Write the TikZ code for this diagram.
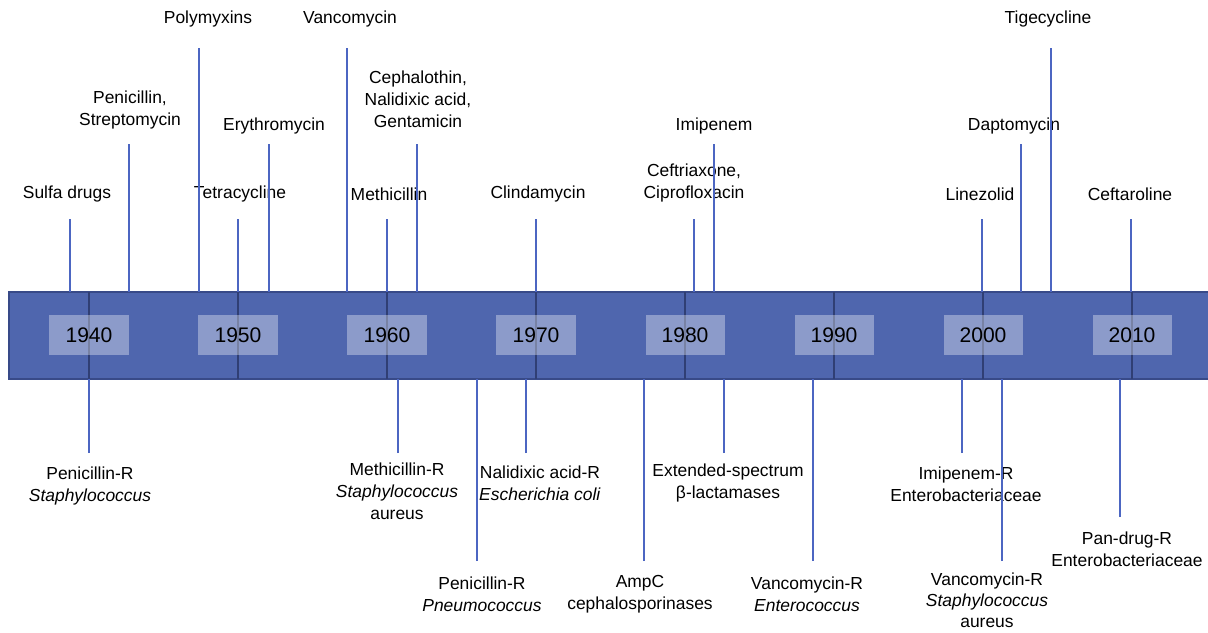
\documentclass[tikz,border=0pt]{standalone}
\usepackage{fontspec}
\setmainfont{Liberation Sans}
\definecolor{barblue}{RGB}{79,102,174}
\definecolor{baredge}{RGB}{56,74,136}
\definecolor{spikeblue}{RGB}{76,102,194}

\begin{document}
\begin{tikzpicture}
  [x=0.025cm,y=-0.025cm,
   every node/.style={font=\fontsize{12.4}{15.6}\selectfont,align=center,inner sep=0pt},
   yearbox/.style={fill=white,fill opacity=.35,text opacity=1,minimum width=1.975cm,minimum height=1cm,font=\fontsize{15}{18}\selectfont},
   spike/.style={draw=spikeblue,line width=2.1pt},
   divider/.style={draw=baredge!85!black,line width=1.4pt}]
  \useasboundingbox (0,0) rectangle (1208,632);

  % the time bar
  \draw[fill=barblue,draw=baredge,line width=1.5pt] (9,292) rectangle (1214,379);
  \coordinate (bartop) at (0,292);
  \coordinate (barbot) at (0,379);
  \foreach \yr [count=\i from 0] in {1940,1950,...,2010}
    \coordinate (d\yr) at ({89+149*\i},335);
  \foreach \yr in {1940,1950,...,2010}
    \draw[divider] (d\yr |- bartop) -- (d\yr |- barbot);
  \foreach \yr in {1940,1950,...,2010}
    \node[yearbox] (y\yr) at (d\yr) {\yr};

  % antibiotics (above)
  \node (sulfa)   at (67,194)   {Sulfa drugs};
  \node (penstr)  at (130,110)  {Penicillin,\\Streptomycin};
  \node (polymy)  at (208,19)   {Polymyxins};
  \node (tetra)   at (240,194)  {Tetracycline};
  \node (erythro) at (274,126)  {Erythromycin};
  \node (vanco)   at (350,19)   {Vancomycin};
  \node (methi)   at (389,194)  {Methicillin};
  \node (cepha)   at (418,99)   {Cephalothin,\\Nalidixic acid,\\Gentamicin};
  \node (clinda)  at (538,194)  {Clindamycin};
  \node (ceftri)  at (694,183)  {Ceftriaxone,\\Ciprofloxacin};
  \node (imipen)  at (714,126)  {Imipenem};
  \node (linez)   at (980,194)  {Linezolid};
  \node (dapto)   at (1014,126) {Daptomycin};
  \node (tige)    at (1048,19)  {Tigecycline};
  \node (cefta)   at (1130,194) {Ceftaroline};

  % resistance (below)
  \node (rpenst)  at (90,486)   {Penicillin-R\\\textit{Staphylococcus}};
  \node (rmethi)  at (397,491)  {Methicillin-R\\\textit{Staphylococcus}\\aureus};
  \node (rpenpn)  at (482,594)  {Penicillin-R\\\textit{Pneumococcus}};
  \node (rnalid)  at (540,483)  {Nalidixic acid-R\\\textit{Escherichia coli}};
  \node (rampc)   at (640,594)  {AmpC\\cephalosporinases};
  \node (resbl)   at (728,483)  {Extended-spectrum\\β-lactamases};
  \node (rvanen)  at (807,594)  {Vancomycin-R\\\textit{Enterococcus}};
  \node (rimip)   at (966,484)  {Imipenem-R\\Enterobacteriaceae};
  \node[font=\fontsize{12.4}{14.8}\selectfont] (rvanst) at (987,600) {Vancomycin-R\\\textit{Staphylococcus}\\aureus};
  \node (rpand)   at (1127,549) {Pan-drug-R\\Enterobacteriaceae};

  \foreach \n/\x/\y in {tsulfa/70/219,tpenstr/129/144,tpolymy/199/48,ttetra/238/219,terythro/269/144,
      tvanco/347/48,tmethi/387/219,tcepha/417/144,tclinda/536/219,tceftri/694/219,timipen/714/144,
      tlinez/982/219,tdapto/1021/144,ttige/1051/48,tcefta/1131/219}
    {\coordinate (\n) at (\x,\y);
     \draw[spike] (\n) -- (\n |- bartop);}
  \foreach \n/\x/\y in {brpenst/89/453,brmethi/398/453,brpenpn/477/561,brnalid/526/453,brampc/644/561,
      bresbl/724/453,brvanen/813/561,brimip/962/453,brvanst/1002/561,brpand/1120/517}
    {\coordinate (\n) at (\x,\y);
     \draw[spike] (\n) -- (\n |- barbot);}

\end{tikzpicture}
\end{document}
